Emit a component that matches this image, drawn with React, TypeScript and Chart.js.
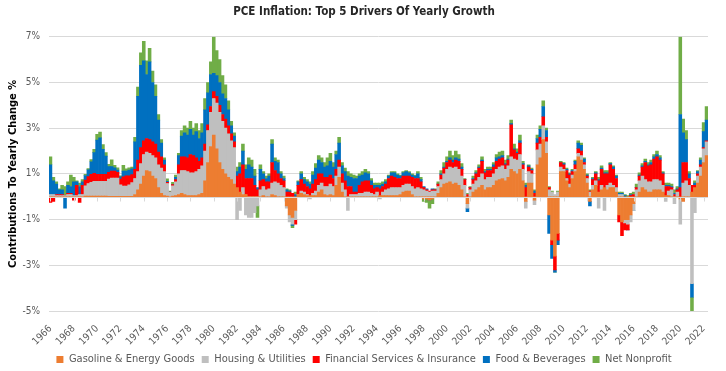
import { useEffect, useRef } from 'react';
import { Chart, registerables } from 'chart.js';

Chart.register(...registerables);

// Quarterly categories, 1966 Q1 .. 2022 Q2
const quarters: string[] = [];
for (let y = 1966; y <= 2022; y++) {
  for (let q = 1; q <= 4; q++) {
    if (y === 2022 && q > 2) break;
    quarters.push(`${y} Q${q}`);
  }
}

const tickYears = ['1966', '1968', '1970', '1972', '1974', '1976', '1978', '1980', '1982', '1984', '1986', '1988', '1990', '1992', '1994', '1996', '1998', '2000', '2002', '2004', '2006', '2008', '2010', '2012', '2014', '2016', '2018', '2020', '2022'];

const yTicks = [-5, -3, -1, 1, 3, 5, 7];

// Contributions (percentage points), one row per year (Q1..Q4)
const gasoline = [
  0, 0, 0, 0, 0, 0, 0, 0, 0, 0, 0, 0, 0.03, 0.03, 0.03, 0.03,
  0.03, 0.03, 0.03, 0.03, 0.02, 0.02, 0.02, 0.02, 0.02, 0.02, 0.02, 0.02, 0.02, 0.1, 0.3, 0.55,
  0.9, 1.15, 1.1, 0.9, 0.8, 0.4, 0.15, 0.05, 0.03, 0, 0.03, 0.05, 0.1, 0.15, 0.1, 0.05,
  0.05, 0.05, 0.05, 0.1, 0.15, 0.7, 1.5, 2.2, 2.7, 2.1, 1.5, 1.2, 1.0, 0.85, 0.75, 0.55,
  0.4, 0.2, 0.1, 0.1, 0, 0, 0, 0, 0, 0.05, 0, 0, 0.1, 0.05, 0, 0,
  0, -0.4, -0.8, -0.9, -0.6, 0.1, 0.15, 0.1, 0.05, 0.05, 0.05, 0.05, 0.2, 0.3, 0.1, 0.05,
  0.1, 0.05, 0.5, 0.85, 0.2, 0, 0, 0, 0, 0, 0, 0, 0, 0, 0, 0,
  0, 0.05, 0.05, 0.05, 0.05, 0.05, 0.05, 0.05, 0.1, 0.2, 0.25, 0.25, 0.1, 0, 0, 0,
  -0.1, -0.1, -0.15, -0.1, 0, 0.15, 0.4, 0.55, 0.6, 0.65, 0.55, 0.6, 0.5, 0.3, 0, -0.3,
  0, 0.2, 0.3, 0.4, 0.5, 0.3, 0.4, 0.4, 0.5, 0.7, 0.75, 0.8, 0.7, 0.85, 1.2, 1.1,
  1.0, 1.2, 0.7, -0.2, 0.6, 0.6, -0.15, 1.4, 1.7, 2.5, 1.9, -0.8, -1.9, -2.6, -1.6, 1.1,
  1.1, 0.7, 0.4, 0.8, 1.1, 1.75, 1.6, 1.2, 0.6, -0.2, 0.3, 0.5, 0.2, 0.3, 0.4, 0.3,
  0.4, 0.4, 0.2, -0.8, -1.1, -1.0, -1.0, -0.8, -0.3, 0, 0.2, 0.4, 0.3, 0.2, 0.2, 0.3,
  0.3, 0.3, 0.2, 0.05, 0.05, 0, 0, 0, -0.1, -0.2, 0, 0, 0.2, 0.4, 0.6, 0.9,
  1.5, 1.8,
];

const housing = [
  0.1, 0.1, 0.05, 0.05, 0.05, 0.05, 0.1, 0.1, 0.05, 0.05, 0.1, 0.1, 0.45, 0.55, 0.6, 0.65,
  0.65, 0.65, 0.65, 0.65, 0.75, 0.8, 0.8, 0.8, 0.5, 0.45, 0.45, 0.5, 0.6, 0.7, 0.8, 0.9,
  0.95, 0.8, 0.8, 0.9, 0.9, 1.0, 1.1, 1.05, 0.55, 0.2, 0.45, 0.6, 0.9, 1.0, 1.05, 1.05,
  1.0, 1.0, 1.05, 1.1, 1.2, 1.3, 1.4, 1.5, 1.6, 2.0, 2.2, 2.1, 2.0, 1.9, 1.7, 1.6,
  -1.0, -0.6, 0.3, -0.8, -0.9, -0.9, -0.7, -0.4, 0.3, 0.4, 0.3, 0.35, 0.5, 0.6, 0.6, 0.5,
  0.4, -0.1, -0.3, -0.3, -0.4, 0, 0.1, 0.1, 0.05, -0.1, 0.1, 0.2, 0.3, 0.3, 0.35, 0.4,
  0.45, 0.4, 0.4, 0.45, 0.4, 0.3, -0.6, 0.1, 0.1, 0.1, 0.15, 0.15, 0.2, 0.2, 0.15, 0.1,
  0.2, -0.1, 0.15, 0.25, 0.3, 0.35, 0.35, 0.35, 0.3, 0.3, 0.3, 0.3, 0.35, 0.35, 0.4, 0.35,
  0.3, 0.25, 0.2, 0.25, 0.25, 0.3, 0.35, 0.45, 0.6, 0.65, 0.7, 0.7, 0.7, 0.6, 0.5, -0.2,
  0.3, 0.35, 0.4, 0.45, 0.5, 0.45, 0.45, 0.45, 0.5, 0.5, 0.55, 0.55, 0.5, 0.5, 0.55, 0.55,
  0.6, 0.65, 0.5, -0.3, 0.5, 0.4, -0.2, 0.65, 0.6, 0.6, 0.5, 0.3, 0.2, 0.1, 0.2, 0.2,
  0.1, 0.1, 0.15, 0.15, 0.1, 0.15, 0.2, 0.2, 0.2, 0.2, 0.2, 0.2, -0.5, 0.2, -0.6, 0.2,
  0.2, 0.1, 0.2, 0.1, 0.1, -0.15, -0.2, -0.3, -0.3, 0.3, 0.5, 0.5, 0.45, 0.45, 0.45, 0.45,
  0.45, 0.4, 0.3, -0.2, 0.2, 0.3, -0.3, 0.2, -1.1, 0.6, 0.7, 0.5, -3.8, -0.7, 0.3, 0.4,
  0.6, 0.6,
];

const financial = [
  -0.25, -0.2, 0.05, 0.05, 0.05, 0, 0.05, 0.05, -0.15, 0.45, -0.25, 0.4, 0.25, 0.3, 0.35, 0.35,
  0.3, 0.3, 0.3, 0.3, 0.3, 0.3, 0.3, 0.25, 0.25, 0.4, 0.45, 0.4, 0.35, 0.4, 0.5, 0.7,
  0.6, 0.6, 0.6, 0.6, 0.6, 0.55, 0.5, 0.3, 0.05, 0, 0.05, 0.1, 0.4, 0.6, 0.6, 0.6,
  0.8, 0.75, 0.6, 0.35, 0.35, 0.3, 0.25, 0.25, 0.3, 0.3, 0.3, 0.3, 0.4, 0.35, 0.3, 0.25,
  0.5, 0.8, 1.0, 0.7, 0.8, 0.8, 0.5, 0.3, 0.4, 0.3, 0.35, 0.3, 0.9, 0.5, 0.4, 0.3,
  0.3, 0.2, 0.2, 0.15, -0.2, 0.4, 0.5, 0.35, 0.35, 0.3, 0.4, 0.5, 0.5, 0.4, 0.4, 0.4,
  0.4, 0.35, 0.3, 0.3, 0.4, 0.4, 0.45, 0.35, 0.1, 0.1, 0.35, 0.5, 0.5, 0.5, 0.35, 0.25,
  0.2, 0.3, 0.25, 0.25, 0.45, 0.5, 0.45, 0.4, 0.4, 0.4, 0.35, 0.35, 0.4, 0.45, 0.4, 0.3,
  0.1, 0.05, 0.05, 0.05, 0.05, 0.1, 0.2, 0.25, 0.3, 0.3, 0.25, 0.3, 0.35, 0.3, 0.25, 0.1,
  0.1, 0.2, 0.3, 0.4, 0.55, 0.3, 0.3, 0.3, 0.3, 0.35, 0.35, 0.35, 0.2, 0.25, 1.4, 0.4,
  0.3, 0.5, 0.2, 0.4, 0.2, 0.15, 0.15, 0.3, 0.3, 0.4, 0.2, 0.1, -0.2, -0.6, -0.3, 0.2,
  0.2, 0.35, 0.4, 0.15, 0.2, 0.2, 0.2, 0.1, 0.1, 0.05, 0.25, 0.3, 0.5, 0.7, 0.6, 0.5,
  0.8, 0.7, 0.4, -0.3, -0.6, -0.3, -0.25, 0.05, 0.1, 0.1, 0.2, 0.4, 0.75, 0.7, 0.75, 0.9,
  1.0, 0.9, 0.5, 0.4, 0.2, 0.1, 0.1, 0.1, 0.4, 0.9, 0.8, 0.3, 0.3, 0.1, 0.1, 0.1,
  0.05, 0.05,
];

const food = [
  1.3, 0.6, 0.45, 0.2, 0.2, -0.5, 0.35, 0.3, 0.6, 0.15, 0.35, 0.15, 0.2, 0.3, 0.55, 0.9,
  1.5, 1.6, 1.1, 0.8, 0.25, 0.2, 0.15, 0.1, 0.1, 0.25, 0.2, 0.25, 0.25, 1.2, 2.8, 3.6,
  3.5, 2.8, 3.4, 2.6, 2.1, 1.4, 0.6, 0.2, 0.05, 0, 0, 0.1, 0.4, 0.9, 1.05, 1.0,
  1.1, 0.9, 1.15, 1.0, 1.1, 1.5, 1.4, 1.4, 0.8, 0.9, 1.0, 0.9, 0.9, 0.7, 0.35, 0.25,
  0.2, 0.3, 0.6, 0.4, 0.6, 0.5, 0.4, 0.1, 0.5, 0.25, 0.15, 0.25, 0.8, 0.4, 0.5, 0.2,
  0.1, 0.1, 0.05, -0.05, 0.1, 0.15, 0.25, 0.2, 0.2, 0.2, 0.4, 0.5, 0.6, 0.5, 0.45, 0.5,
  0.6, 0.5, 0.65, 0.75, 0.35, 0.4, 0.45, 0.4, 0.6, 0.6, 0.4, 0.3, 0.35, 0.3, 0.2, 0.15,
  0.1, 0.15, 0.1, 0.1, 0.1, 0.15, 0.2, 0.15, 0.1, 0.15, 0.2, 0.15, 0.1, 0.1, 0.2, 0.1,
  0.05, 0.05, 0, 0.05, 0, 0, 0.05, 0.05, 0.05, 0.1, 0.1, 0.1, 0.1, 0.1, 0, -0.15,
  0, 0.05, 0.05, 0.05, 0.05, 0.05, 0.05, 0.05, 0.1, 0.15, 0.1, 0.1, 0.05, 0.05, 0.05, 0.05,
  0.05, 0.1, 0.05, 0.1, 0.05, 0.05, 0.1, 0.2, 0.35, 0.45, 0.3, -0.8, -0.6, -0.1, -0.2, 0,
  0.05, 0.05, 0.05, 0.05, 0.15, 0.25, 0.25, 0.15, 0.05, -0.2, 0.05, 0.05, 0.05, 0.05, 0.05, 0.05,
  0.05, 0.1, 0.1, 0.05, 0.05, 0.05, 0, 0.05, 0, 0, 0.05, 0.05, 0.05, 0.05, 0.1, 0.1,
  0.1, 0.1, 0.05, 0.05, 0.05, 0.05, 0.05, 0.05, 3.2, 1.3, 1.0, 0.2, -0.6, 0.1, 0.1, 0.2,
  0.7, 0.9,
];

const nonprofit = [
  0.35, 0.15, 0.1, 0.05, 0.2, 0.4, 0.15, 0.5, 0.2, 0.05, 0.15, 0.1, 0.05, 0.05, 0.1, 0.15,
  0.25, 0.25, 0.2, 0.15, 0.1, 0.3, 0.1, 0.1, 0.05, 0.25, 0.1, 0.1, 0.08, 0.2, 0.4, 0.55,
  0.85, 0.6, 0.6, 0.5, 0.5, 0.25, 0.15, 0.1, 0.1, 0.05, 0.1, 0.1, 0.1, 0.25, 0.3, 0.3,
  0.35, 0.3, 0.35, 0.35, 0.4, 0.5, 0.45, 0.55, 1.6, 1.1, 1.0, 0.8, 0.6, 0.4, 0.2, 0.15,
  0.2, 0.2, 0.3, 0.2, 0.3, 0.3, 0.3, -0.5, 0.2, 0.1, 0.1, 0.1, 0.2, 0.15, 0.1, 0.1,
  0.1, 0.05, 0.05, -0.1, 0.1, 0.05, 0.1, 0.1, 0.1, 0.1, 0.15, 0.2, 0.2, 0.2, 0.2, 0.35,
  0.35, 0.2, 0.15, 0.25, 0.15, 0.15, 0.2, 0.15, 0.15, 0.1, 0.1, 0.15, 0.15, 0.1, 0.1, 0.1,
  0.1, 0.1, 0.1, 0.1, 0.05, 0.05, 0.05, 0.05, 0.05, 0.05, 0.05, 0.05, 0.05, 0.05, 0.1, 0.1,
  -0.1, -0.15, -0.35, -0.2, 0.05, 0.1, 0.15, 0.2, 0.2, 0.3, 0.2, 0.3, 0.2, 0.15, 0.05, 0.05,
  0.05, 0.1, 0.1, 0.1, 0.15, 0.1, 0.1, 0.1, 0.1, 0.15, 0.2, 0.2, 0.15, 0.15, 0.15, 0.2,
  0.15, 0.25, 0.1, 0.1, 0.05, 0.05, 0.05, 0.15, 0.15, 0.25, 0.1, 0.05, 0.05, 0, 0.05, 0.05,
  0.05, 0.05, 0.05, 0.05, 0.05, 0.1, 0.1, 0.05, 0.05, 0.05, 0.05, 0.05, 0.1, 0.1, 0.1, 0.1,
  0.05, 0.05, 0.05, 0.05, 0.05, 0.05, 0.05, 0.05, 0.1, 0.15, 0.1, 0.1, 0.1, 0.1, 0.1, 0.1,
  0.15, 0.1, 0.05, 0.1, 0.1, 0.1, 0.15, 0.1, 3.4, 0.6, 0.4, 0.1, -0.6, 0.1, 0.05, 0.1,
  0.4, 0.6,
];

const FONT = "'Liberation Sans Narrow', 'DejaVu Sans Condensed', Roboto, sans-serif";

const isTickIndex = (i: number) => {
  const [year, q] = quarters[i].split(' ');
  return q === 'Q1' && tickYears.includes(year);
};

const zeroAxis = {
  id: 'zeroAxis',
  afterDatasetsDraw(chart: any) {
    const { ctx, chartArea, scales } = chart;
    const y0 = Math.round(scales.y.getPixelForValue(0)) + 0.5;
    ctx.save();
    ctx.strokeStyle = '#D9D9D9';
    ctx.lineWidth = 1;
    ctx.beginPath();
    ctx.moveTo(chartArea.left, y0);
    ctx.lineTo(chartArea.right, y0);
    quarters.forEach((_, i) => {
      if (isTickIndex(i)) {
        const x = Math.round(scales.x.getPixelForValue(i)) + 0.5;
        ctx.moveTo(x, y0);
        ctx.lineTo(x, y0 + 4);
      }
    });
    ctx.stroke();
    ctx.restore();
  },
};

export default function App() {
  const ref = useRef<HTMLCanvasElement | null>(null);

  useEffect(() => {
    if (!ref.current) return;
    const mk = (label: string, data: number[], color: string) => ({
      label,
      data,
      backgroundColor: color,
      borderWidth: 0,
      categoryPercentage: 1,
      barPercentage: 1,
    });
    const chart = new Chart(ref.current, {
      type: 'bar',
      data: {
        labels: quarters,
        datasets: [
          mk('Gasoline & Energy Goods', gasoline, '#ED7D31'),
          mk('Housing & Utilities', housing, '#BFBFBF'),
          mk('Financial Services & Insurance', financial, '#FF0000'),
          mk('Food & Beverages', food, '#0070C0'),
          mk('Net Nonprofit', nonprofit, '#70AD47'),
        ],
      },
      options: {
        animation: false,
        responsive: true,
        maintainAspectRatio: false,
        layout: { padding: { left: 20, right: 18, top: 0, bottom: -4 } },
        plugins: {
          title: {
            display: true,
            text: 'PCE Inflation: Top 5 Drivers Of Yearly Growth',
            color: '#262626',
            font: { family: FONT, size: 11.5, weight: 'bold' },
            padding: { top: 5, bottom: 18 },
          },
          legend: {
            position: 'bottom',
            labels: {
              boxWidth: 7,
              boxHeight: 7,
              padding: 7,
              color: '#595959',
              font: { family: FONT, size: 11 },
            },
          },
          tooltip: { enabled: false },
        },
        scales: {
          x: {
            stacked: true,
            grid: { display: false },
            border: { display: false },
            ticks: {
              autoSkip: false,
              maxRotation: 45,
              minRotation: 45,
              padding: 4,
              color: '#595959',
              font: { family: FONT, size: 10 },
              callback: (_v: any, i: number) => (isTickIndex(i) ? quarters[i].split(' ')[0] : ''),
            },
            afterFit: (s: any) => {
              s.height = 36;
            },
          },
          y: {
            stacked: true,
            min: -5,
            max: 7,
            afterBuildTicks: (s: any) => {
              s.ticks = yTicks.map((v) => ({ value: v }));
            },
            ticks: {
              color: '#595959',
              padding: 9,
              font: { family: FONT, size: 10 },
              callback: (v: any) => `${v}%`,
            },
            grid: { color: '#D9D9D9', drawTicks: false },
            border: { display: false },
            title: {
              display: true,
              text: 'Contributions To Yearly Change %',
              color: '#000000',
              font: { family: FONT, size: 11, weight: 'bold' },
              padding: { top: -13, bottom: 0 },
            },
            afterFit: (s: any) => {
              s.width = 29;
            },
          },
        },
      },
      plugins: [zeroAxis],
    });
    return () => chart.destroy();
  }, []);

  return (
    <div style={{ position: 'fixed', left: 0, top: 0, width: 726, height: 371, background: '#fff' }}>
      <canvas ref={ref} />
    </div>
  );
}
